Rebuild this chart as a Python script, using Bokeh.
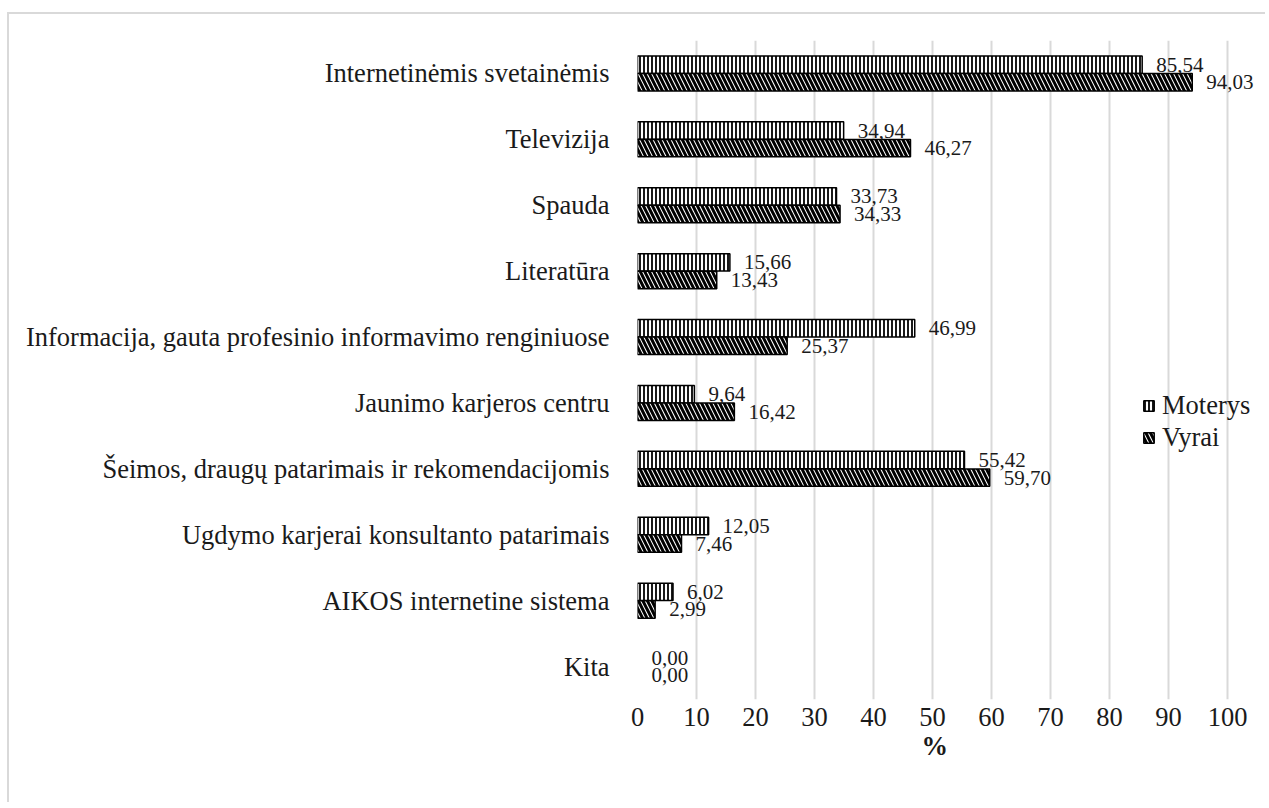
from bokeh.plotting import figure
from bokeh.models import FactorRange, Legend, LegendItem, ColumnDataSource, Range1d, Title
from bokeh.transform import dodge
from bokeh.core.properties import value
from bokeh.embed import file_html
from bokeh.resources import INLINE

categories = [
    "Internetinėmis svetainėmis",
    "Televizija",
    "Spauda",
    "Literatūra",
    "Informacija, gauta profesinio informavimo renginiuose",
    "Jaunimo karjeros centru",
    "Šeimos, draugų patarimais ir rekomendacijomis",
    "Ugdymo karjerai konsultanto patarimais",
    "AIKOS internetine sistema",
    "Kita",
]
moterys = [85.54, 34.94, 33.73, 15.66, 46.99, 9.64, 55.42, 12.05, 6.02, 0.00]
vyrai = [94.03, 46.27, 34.33, 13.43, 25.37, 16.42, 59.70, 7.46, 2.99, 0.00]
x_ticks = [0, 10, 20, 30, 40, 50, 60, 70, 80, 90, 100]
x_title = "%"

FONT = "'Liberation Serif', 'Times New Roman', serif"
TXT = "#1a1a1a"
BIG = "26.5px"
SMALL = "21px"

def fmt(v):
    return f"{v:.2f}".replace(".", ",")

src = ColumnDataSource(dict(
    cat=categories,
    m=moterys,
    v=vyrai,
    ml=[fmt(x) for x in moterys],
    vl=[fmt(x) for x in vyrai],
    ma=[1 if x > 0 else 0 for x in moterys],
    va=[1 if x > 0 else 0 for x in vyrai],
))

# frame: left edge at 0, the 100 gridline 590 px to the right; frame extends
# past 100 so that value labels and legend text are not clipped
W = 1258
LEFT = 628
TICK_SPAN_PX = 590
frame_w = W - LEFT
x_end = 100 * frame_w / TICK_SPAN_PX

p = figure(
    width=W, height=790,
    y_range=FactorRange(*reversed(categories), range_padding=0),
    x_range=Range1d(0, x_end),
    output_backend="svg", toolbar_location=None,
    min_border_left=LEFT, min_border_right=0,
    min_border_top=26, min_border_bottom=105,
)
p.styles = {"border-top": "2px solid #d9d9d9", "border-left": "2px solid #d9d9d9",
            "margin-left": "7px", "margin-top": "12px"}
p.outline_line_color = None

bh = 0.265
off = 0.133
rm = p.hbar(y=dodge("cat", off, range=p.y_range), right="m", left=0, height=bh, source=src,
            fill_color="white", line_color="black", line_width=1.5, line_alpha="ma",
            hatch_pattern="|", hatch_color="black", hatch_scale=4, hatch_weight=1.8)
rv = p.hbar(y=dodge("cat", -off, range=p.y_range), right="v", left=0, height=bh, source=src,
            fill_color="white", line_color="black", line_width=1.5, line_alpha="va",
            hatch_pattern="\\", hatch_color="black", hatch_scale=9, hatch_weight=3)

p.text(x="m", y=dodge("cat", off, range=p.y_range), text="ml", source=src,
       x_offset=14, text_baseline="middle", text_align="left",
       text_font=value(FONT), text_font_size=SMALL, text_color=TXT)
p.text(x="v", y=dodge("cat", -off, range=p.y_range), text="vl", source=src,
       x_offset=14, text_baseline="middle", text_align="left",
       text_font=value(FONT), text_font_size=SMALL, text_color=TXT)

p.xaxis.ticker = x_ticks
p.xaxis.major_label_standoff = 2
for ax in (p.xaxis, p.yaxis):
    ax.axis_line_color = None
    ax.major_tick_line_color = None
    ax.minor_tick_line_color = None
    ax.major_label_text_font = FONT
    ax.major_label_text_font_size = BIG
    ax.major_label_text_color = TXT
p.yaxis.major_label_standoff = 22

# axis title centred under the tick span (0..100), not under the extended frame
p.add_layout(Title(text=x_title, align="left", offset=TICK_SPAN_PX / 2 - 11,
                   text_font=FONT, text_font_size=BIG, text_font_style="bold",
                   text_color=TXT, standoff=0), "below")

p.xgrid.grid_line_color = "#d9d9d9"
p.xgrid.grid_line_width = 2
p.ygrid.grid_line_color = None

legend = Legend(items=[LegendItem(label="Moterys", renderers=[rm]),
                       LegendItem(label="Vyrai", renderers=[rv])],
                location=(505, 246), orientation="vertical",
                background_fill_alpha=0, border_line_color=None,
                label_text_font=FONT, label_text_font_size=BIG, label_text_color=TXT,
                glyph_width=13, glyph_height=13, label_height=26, spacing=1,
                padding=0, margin=0, label_standoff=7)
p.add_layout(legend, "center")

open("out.html", "w").write(file_html(p, INLINE))
